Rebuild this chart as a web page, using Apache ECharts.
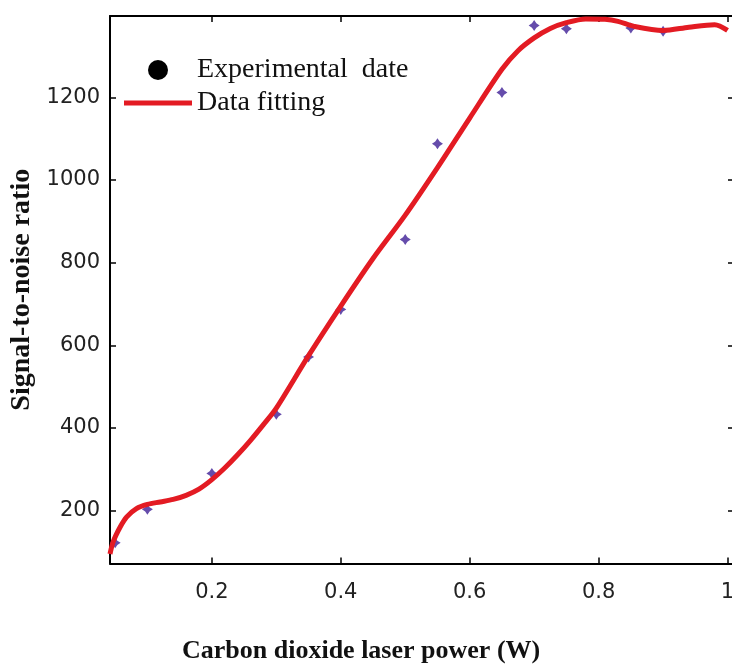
<!DOCTYPE html>
<html>
<head>
<meta charset="utf-8">
<script src="https://cdn.jsdelivr.net/npm/echarts@6/dist/echarts.min.js"></script>
<style>
  html, body { margin: 0; padding: 0; background: #fff; }
  #chart { width: 732px; height: 666px; }
</style>
</head>
<body>
<div id="chart"></div>
<script>
// measured points (power in W, SNR)
var ptX = [0.05, 0.1, 0.2, 0.3, 0.35, 0.4, 0.5, 0.55, 0.65, 0.7, 0.75, 0.85, 0.9]
var ptY = [122, 203, 290, 433, 572, 687, 856, 1088, 1212, 1374, 1366, 1368, 1360]

// fitted curve
var fitX = [0.042, 0.047, 0.058, 0.068, 0.083, 0.1, 0.12, 0.14, 0.16, 0.18, 0.2, 0.22, 0.24, 0.26, 0.28, 0.3, 0.35, 0.4, 0.45, 0.5, 0.55, 0.6, 0.65, 0.675, 0.7, 0.725, 0.75, 0.78, 0.81, 0.83, 0.855, 0.9, 0.94, 0.98, 1.0]
var fitY = [95, 125, 161, 185, 205, 215, 221, 227, 237, 252, 275, 303, 335, 370, 408, 448, 575, 695, 810, 915, 1030, 1150, 1268, 1313, 1344, 1367, 1381, 1390, 1389, 1384, 1372, 1362, 1370, 1376, 1362]

var xTicks = [0.2, 0.4, 0.6, 0.8, 1]
var yTicks = [200, 400, 600, 800, 1000, 1200]

var xMin = 0.042
var xMax = 1.010
var yMin = 72
var yMax = 1397

function zip (a, b) {
  var out = []
  for (var i = 0; i < a.length; i++) out.push([a[i], b[i]])
  return out
}

var frameLine = { show: true, onZero: false, lineStyle: { color: '#000', width: 2 } }
var tickStyle = { show: true, inside: true, length: 6, lineStyle: { color: '#000', width: 1.5 } }
var tickFont = { fontFamily: 'DejaVu Sans', fontSize: 21, color: '#222' }
var titleFont = { fontFamily: 'Liberation Serif', fontWeight: 'bold', fontSize: 28, color: '#111' }

var chart = echarts.init(document.getElementById('chart'))
var option = {
  animation: false,
  backgroundColor: '#fff',
  grid: { left: 110, right: -2, top: 16, bottom: 102.5, outerBoundsMode: 'none', containLabel: false },
  title: {
    text: 'Carbon dioxide laser power (W)',
    left: 182,
    top: 638,
    padding: 0,
    textStyle: Object.assign({}, titleFont, { fontSize: 26 })
  },
  legend: {
    orient: 'vertical',
    left: 124,
    top: 56,
    padding: 0,
    itemWidth: 68,
    itemHeight: 20,
    itemGap: 5,
    itemTextGap: 11,
    selectedMode: false,
    symbolKeepAspect: true,
    textStyle: { fontFamily: 'Liberation Serif', fontSize: 28, color: '#111' },
    data: [
      { name: 'Experimental  date', icon: 'circle', itemStyle: { color: '#000', opacity: 1 } },
      { name: 'Data fitting', icon: 'path://M0,0 L68,0 L68,5 L0,5 Z', itemStyle: { color: '#e31b23' } }
    ]
  },
  xAxis: [
    {
      type: 'value', position: 'bottom', min: xMin, max: xMax,
      axisLine: frameLine,
      axisTick: Object.assign({ customValues: xTicks }, tickStyle),
      axisLabel: Object.assign({ customValues: xTicks, margin: 19, formatter: function (v) { return String(v) } }, tickFont),
      splitLine: { show: false }
    },
    {
      type: 'value', position: 'top', min: xMin, max: xMax,
      axisLine: frameLine,
      axisTick: Object.assign({ customValues: xTicks }, tickStyle),
      axisLabel: { show: false },
      splitLine: { show: false }
    }
  ],
  yAxis: [
    {
      type: 'value', position: 'left', min: yMin, max: yMax,
      name: 'Signal-to-noise ratio',
      nameLocation: 'middle',
      nameGap: 74,
      nameTextStyle: titleFont,
      axisLine: frameLine,
      axisTick: Object.assign({ customValues: yTicks }, tickStyle),
      axisLabel: Object.assign({ customValues: yTicks, margin: 10, formatter: function (v) { return String(v) } }, tickFont),
      splitLine: { show: false }
    },
    {
      type: 'value', position: 'right', min: yMin, max: yMax,
      axisLine: frameLine,
      axisTick: Object.assign({ customValues: yTicks }, tickStyle),
      axisLabel: { show: false },
      splitLine: { show: false }
    }
  ],
  series: [
    {
      name: 'Experimental  date',
      type: 'scatter',
      symbol: 'path://M0,-10 L4,-4 L10,0 L4,4 L0,10 L-4,4 L-10,0 L-4,-4 Z',
      symbolSize: 11,
      itemStyle: { color: '#3f1f96' },
      z: 2,
      data: zip(ptX, ptY)
    },
    {
      name: 'Data fitting',
      type: 'line',
      smooth: 0.3,
      symbol: 'none',
      lineStyle: { color: '#e31b23', width: 5 },
      itemStyle: { color: '#e31b23' },
      z: 3,
      data: zip(fitX, fitY)
    }
  ]
}
chart.setOption(option)
</script>
</body>
</html>
